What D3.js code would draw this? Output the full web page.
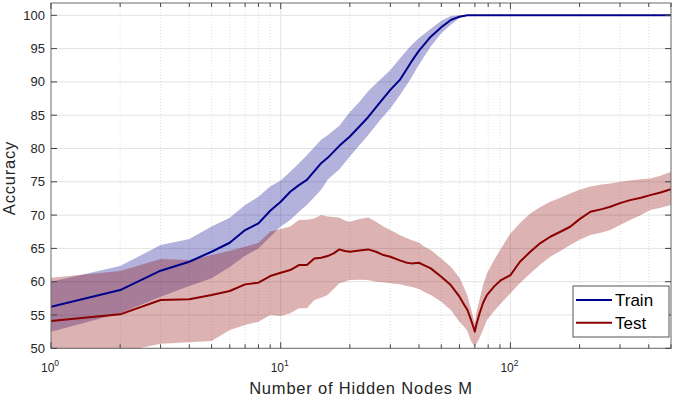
<!DOCTYPE html>
<html>
<head>
<meta charset="utf-8">
<script src="https://cdn.jsdelivr.net/npm/d3@7"></script>
<style>
  body { margin: 0; background: #fff; }
  svg { display: block; font-family: "Liberation Sans", Arial, sans-serif; }
</style>
</head>
<body>
<svg id="chart" width="676" height="397"></svg>
<script>
// train curve (mean and band)
const trainM    = [1, 2, 3, 4, 5, 6, 7, 8, 9, 10, 11, 12, 13, 15, 16, 18, 20, 22, 24, 27, 30, 33, 37, 40, 45, 50, 55, 60, 65, 500];
const trainMean = [56.25, 58.75, 61.65, 63.0, 64.5, 65.85, 67.75, 68.75, 70.65, 72.0, 73.5, 74.5, 75.3, 77.8, 78.6, 80.4, 81.8, 83.3, 84.7, 86.9, 88.8, 90.3, 93.0, 94.7, 96.8, 98.2, 99.3, 99.8, 100, 100];
const trainHi   = [60.0, 62.35, 65.5, 66.4, 68.3, 69.6, 71.5, 72.75, 74.3, 75.2, 76.5, 77.8, 79.0, 81.3, 82.0, 83.4, 85.5, 87.0, 88.6, 90.3, 91.8, 93.5, 95.5, 96.6, 98.0, 99.2, 99.9, 100, 100, 100];
const trainLo   = [52.5, 55.25, 57.75, 59.35, 60.5, 62.2, 63.9, 65.0, 66.75, 68.3, 69.25, 70.5, 71.5, 73.8, 75.3, 76.9, 78.8, 80.5, 82.0, 84.2, 86.0, 88.0, 90.6, 92.6, 95.3, 97.3, 98.6, 99.6, 100, 100];

// test curve
const testM    = [1, 2, 3, 4, 5, 6, 7, 8, 9, 10, 11, 12, 13, 14, 15, 16, 17, 18, 19, 20, 22, 24, 26, 28, 30, 33, 35, 37, 40, 42, 45, 50, 55, 60, 63, 65, 67, 69, 70, 71, 73, 76, 79, 85, 91, 100, 110, 122, 135, 149, 165, 182, 200, 223, 250, 272, 300, 332, 370, 406, 450, 500];
const testMean = [54.1, 55.1, 57.25, 57.35, 58.0, 58.6, 59.6, 59.85, 60.85, 61.35, 61.75, 62.5, 62.5, 63.5, 63.6, 63.85, 64.25, 64.85, 64.6, 64.5, 64.7, 64.85, 64.5, 64.0, 63.75, 63.2, 62.9, 62.75, 62.85, 62.5, 62.0, 60.75, 59.5, 57.75, 56.5, 55.75, 54.5, 53.2, 52.5, 53.5, 55.0, 56.8, 58.0, 59.3, 60.25, 61.0, 63.0, 64.5, 65.8, 66.75, 67.5, 68.25, 69.4, 70.5, 70.9, 71.25, 71.8, 72.25, 72.6, 73.0, 73.4, 73.9];
const testLo   = [47.0, 49.4, 50.7, 50.9, 51.1, 52.75, 53.5, 54.0, 55.0, 54.85, 55.25, 56.0, 56.0, 57.25, 57.6, 58.0, 58.9, 59.75, 60.0, 60.25, 60.3, 60.25, 60.0, 59.9, 59.75, 59.6, 59.4, 59.25, 58.9, 58.5, 58.0, 57.0, 55.75, 54.0, 53.2, 52.6, 51.25, 50.5, 50.25, 50.6, 51.4, 52.8, 54.25, 55.6, 56.75, 58.25, 59.8, 61.25, 62.6, 63.75, 64.6, 65.5, 66.3, 67.0, 67.4, 67.75, 68.5, 69.25, 70.0, 70.75, 71.1, 71.5];
const testHi   = [60.6, 61.6, 63.4, 63.25, 64.0, 64.65, 65.25, 65.85, 67.5, 67.9, 68.3, 69.25, 69.3, 69.5, 70.0, 69.8, 69.7, 69.6, 69.2, 69.0, 69.4, 69.65, 69.0, 68.3, 67.75, 67.0, 66.6, 66.25, 65.9, 65.3, 64.75, 63.5, 62.25, 60.6, 59.0, 57.9, 56.2, 54.6, 53.75, 55.3, 57.0, 59.5, 61.25, 63.3, 65.0, 67.25, 68.8, 70.25, 71.2, 72.0, 72.6, 73.25, 73.8, 74.3, 74.6, 74.75, 75.0, 75.2, 75.4, 75.5, 75.9, 76.5];

const yTicks = [50, 55, 60, 65, 70, 75, 80, 85, 90, 95, 100];
const xDecades = [1, 10, 100];
const seriesNames = ["Train", "Test"];
const seriesColors = ["#00008b", "#8b0000"];

const svg = d3.select("#chart");
const pLeft = 51, pRight = 671, pTop = 3, pBottom = 348.3;

const x = d3.scaleLog().domain([1, 500]).range([pLeft, pRight]);
const y = d3.scaleLinear().domain([50, 101.85]).range([pBottom, pTop]);

svg.append("defs").append("clipPath").attr("id", "plotclip")
  .append("rect").attr("x", pLeft).attr("y", pTop)
  .attr("width", pRight - pLeft).attr("height", pBottom - pTop);

// minor x positions 2..9 per decade
const minorX = [];
xDecades.forEach(d => { for (let k = 2; k <= 9; k++) if (d * k <= 500) minorX.push(d * k); });

const grid = svg.append("g");
grid.selectAll(".hg").data(yTicks).enter().append("line")
  .attr("x1", pLeft).attr("x2", pRight)
  .attr("y1", d => y(d)).attr("y2", d => y(d))
  .style("stroke", "#e3e3e3").style("stroke-width", 1);
grid.selectAll(".vmin").data(minorX).enter().append("line")
  .attr("x1", d => x(d)).attr("x2", d => x(d))
  .attr("y1", pTop).attr("y2", pBottom)
  .style("stroke", "#d6d6d6").style("stroke-width", 0.8)
  .style("stroke-dasharray", "1,2");
grid.selectAll(".vmaj").data(xDecades.slice(1)).enter().append("line")
  .attr("x1", d => x(d)).attr("x2", d => x(d))
  .attr("y1", pTop).attr("y2", pBottom)
  .style("stroke", "#e3e3e3").style("stroke-width", 1);

const plot = svg.append("g").attr("clip-path", "url(#plotclip)");

function band(ms, lo, hi, color) {
  const area = d3.area()
    .x((d, i) => x(ms[i]))
    .y0((d, i) => y(lo[i]))
    .y1((d, i) => y(hi[i]));
  plot.append("path").datum(ms).attr("d", area)
    .style("fill", color).style("fill-opacity", 0.3).style("stroke", "none");
}
function meanLine(ms, vals, color) {
  const line = d3.line().x((d, i) => x(ms[i])).y((d, i) => y(vals[i]));
  plot.append("path").datum(ms).attr("d", line)
    .style("fill", "none").style("stroke", color).style("stroke-width", 2)
    .style("stroke-linejoin", "round");
}

band(trainM, trainLo, trainHi, seriesColors[0]);
band(testM, testLo, testHi, seriesColors[1]);
meanLine(trainM, trainMean, seriesColors[0]);
meanLine(testM, testMean, seriesColors[1]);

// box and inward ticks
const axisColor = "#6a6a6a";
svg.append("rect").attr("x", pLeft).attr("y", pTop)
  .attr("width", pRight - pLeft).attr("height", pBottom - pTop)
  .style("fill", "none").style("stroke", axisColor).style("stroke-width", 1);

const ticks = svg.append("g").style("stroke", "#444").style("stroke-width", 1);
yTicks.forEach(v => {
  ticks.append("line").attr("x1", pLeft).attr("x2", pLeft + 6).attr("y1", y(v)).attr("y2", y(v));
  ticks.append("line").attr("x1", pRight).attr("x2", pRight - 6).attr("y1", y(v)).attr("y2", y(v));
});
xDecades.concat(minorX).forEach(v => {
  const len = xDecades.includes(v) ? 6 : 4;
  ticks.append("line").attr("x1", x(v)).attr("x2", x(v)).attr("y1", pBottom).attr("y2", pBottom - len);
  ticks.append("line").attr("x1", x(v)).attr("x2", x(v)).attr("y1", pTop).attr("y2", pTop + len);
});

// tick labels
svg.selectAll(".ylab").data(yTicks).enter().append("text")
  .attr("x", pLeft - 6).attr("y", d => y(d)).attr("dy", "0.35em")
  .attr("text-anchor", "end")
  .style("font-size", "13px").style("fill", "#262626")
  .text(d => d);

xDecades.forEach(d => {
  const t = svg.append("text")
    .attr("x", x(d) - 1).attr("y", 372)
    .attr("text-anchor", "middle")
    .style("font-size", "12px").style("fill", "#262626");
  t.append("tspan").text("10");
  t.append("tspan").attr("dy", -6).style("font-size", "8.5px").text(Math.round(Math.log10(d)));
});

// axis titles
svg.append("text")
  .attr("x", (pLeft + pRight) / 2).attr("y", 394)
  .attr("text-anchor", "middle")
  .style("font-size", "16.5px").style("letter-spacing", "0.8px").style("fill", "#262626")
  .text("Number of Hidden Nodes M");

svg.append("text")
  .attr("transform", "translate(15,178) rotate(-90)")
  .attr("text-anchor", "middle")
  .style("font-size", "16.5px").style("letter-spacing", "0.8px").style("fill", "#262626")
  .text("Accuracy");

// legend
const lg = svg.append("g");
lg.append("rect").attr("x", 573).attr("y", 286).attr("width", 96).attr("height", 51)
  .style("fill", "#fff").style("stroke", "#555").style("stroke-width", 1);
seriesNames.forEach((name, i) => {
  const ly = 300 + i * 22.7;
  lg.append("line").attr("x1", 576).attr("x2", 612).attr("y1", ly).attr("y2", ly)
    .style("stroke", seriesColors[i]).style("stroke-width", 2);
  lg.append("text").attr("x", 615).attr("y", ly).attr("dy", "0.36em")
    .style("font-size", "17px").style("fill", "#000").text(name);
});
</script>
</body>
</html>
